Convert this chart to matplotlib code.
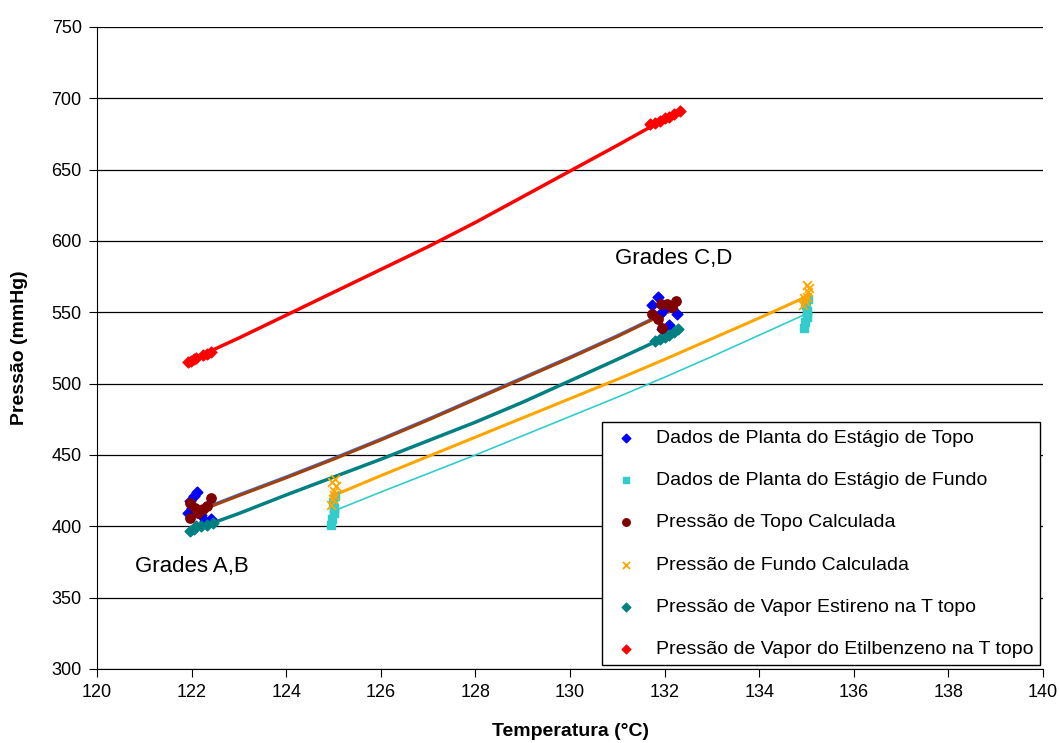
import numpy as np
import matplotlib.pyplot as plt

plt.rcParams['font.family'] = ['Liberation Sans', 'DejaVu Sans']

# plant data, top stage (blue diamonds)
topo_T = [121.93, 121.97, 122.05, 122.11, 122.0, 122.28, 122.42, 122.2,
          131.74, 131.85, 131.9, 132.0, 132.09, 132.27, 131.95]
topo_P = [409, 418, 421, 424, 413, 404, 405, 408,
          555, 561, 549, 553, 541, 549, 538]

# plant data, bottom stage (cyan squares)
fundo_T = [124.95, 124.97, 125.0, 125.02, 124.98, 125.03, 125.0,
           134.95, 134.97, 135.0, 135.02, 134.98, 135.03, 135.0]
fundo_P = [401, 405, 409, 413, 417, 421, 411,
           539, 543, 547, 551, 555, 559, 549]

# calculated top pressure (dark red circles)
ptopo_T = [121.97, 121.97, 122.14, 122.32, 122.4, 122.07, 122.25,
           131.73, 131.85, 131.92, 131.95, 132.04, 132.15, 132.24]
ptopo_P = [416, 406, 409, 414, 420, 413, 412,
           549, 545, 556, 539, 556, 554, 558]

# calculated bottom pressure (orange crosses)
pfundo_T = [124.95, 124.98, 125.0, 125.02, 125.05, 124.97, 125.03,
            134.92, 134.97, 135.0, 135.03, 135.06, 134.95, 135.02]
pfundo_P = [415, 419, 422, 425, 428, 431, 433,
            555, 558, 561, 564, 567, 560, 569]

# styrene vapour pressure at top T (teal diamonds)
est_T = [121.97, 122.05, 122.1, 122.2, 122.32, 122.46,
         131.8, 131.9, 132.0, 132.1, 132.2, 132.29]
est_P = [397, 398, 400, 400, 401, 402,
         530, 531, 533, 534, 536, 538]

# ethylbenzene vapour pressure at top T (red diamonds)
etb_T = [121.92, 121.98, 122.05, 122.1, 122.25, 122.32, 122.4,
         131.7, 131.8, 131.9, 132.0, 132.1, 132.2, 132.33]
etb_P = [515, 516, 517, 518, 520, 521, 522,
         682, 683, 684, 686, 687, 689, 691]

# curves through the data
curva_T_topo = [122.1, 123, 124, 125, 126, 127, 128, 129, 130, 131, 132.25]
curva_P_topo = [410, 421.5, 434, 447, 460.5, 474.5, 489, 503.5, 518, 533, 553]
curva_P_topo_b = [411, 422.5, 435, 448, 461.5, 475.5, 490, 504.5, 519, 534, 554]
curva_T_est = [122.0, 123, 124, 125, 126, 127, 128, 129, 130, 131, 132.3]
curva_P_est = [397, 409, 422, 434.5, 447, 460, 473, 487, 502, 517, 537]
curva_T_fundo = [125.1, 126, 127, 128, 129, 130, 131, 132, 133, 134, 135]
curva_P_fundo = [423, 435.5, 449, 462.5, 476, 489.5, 503, 517, 531.5, 546, 561]
curva_P_fundo_b = [412, 424, 437, 450, 463.5, 477, 490.5, 504.5, 519, 534, 549]
curva_T_etb = [121.95, 123, 124, 125, 126, 127, 128, 129, 130, 131, 132.3]
curva_P_etb = [516, 532, 548, 564, 580, 596, 613, 631, 649, 667, 691]

fig = plt.figure(figsize=(10.6, 7.43), dpi=100)
ax = fig.add_axes([0.0915, 0.0996, 0.8925, 0.8641])

ax.plot(curva_T_topo, curva_P_topo_b, color='#4169E1', lw=1.5, zorder=2)
ax.plot(curva_T_topo, curva_P_topo, color='#A0420A', lw=2.2, zorder=2)
ax.plot(curva_T_est, curva_P_est, color='#008080', lw=2.5, zorder=2)
ax.plot(curva_T_fundo, curva_P_fundo, color='#FFA500', lw=2.2, zorder=2)
ax.plot(curva_T_fundo, curva_P_fundo_b, color='#33CCCC', lw=1.2, zorder=2)
ax.plot(curva_T_etb, curva_P_etb, color='#FF0000', lw=2.5, zorder=2)

ax.scatter(topo_T, topo_P, marker='D', s=30, color='#0000FF', zorder=3,
           label='Dados de Planta do Estágio de Topo')
ax.scatter(fundo_T, fundo_P, marker='s', s=30, color='#33CCCC', zorder=3,
           label='Dados de Planta do Estágio de Fundo')
ax.scatter(ptopo_T, ptopo_P, marker='o', s=45, color='#800000', zorder=4,
           label='Pressão de Topo Calculada')
ax.scatter(pfundo_T, pfundo_P, marker='x', s=40, color='#FFA500', zorder=4,
           linewidths=1.3, label='Pressão de Fundo Calculada')
ax.scatter(est_T, est_P, marker='D', s=30, color='#008080', zorder=3,
           label='Pressão de Vapor Estireno na T topo')
ax.scatter(etb_T, etb_P, marker='D', s=30, color='#FF0000', zorder=3,
           label='Pressão de Vapor do Etilbenzeno na T topo')

ax.text(120.8, 372, 'Grades A,B', fontsize=16, ha='left', va='center')
ax.text(130.95, 588, 'Grades C,D', fontsize=16, ha='left', va='center')

ax.set_xlim(120, 140)
ax.set_ylim(300, 750)
ax.set_xticks(np.arange(120, 141, 2))
ax.set_yticks(np.arange(300, 751, 50))
ax.yaxis.grid(True, color='black', lw=0.9)
ax.set_axisbelow(True)
ax.tick_params(labelsize=13, direction='out', length=6, color='black', pad=5)
for s in ['top', 'right']:
    ax.spines[s].set_visible(False)
for s in ['left', 'bottom']:
    ax.spines[s].set_color('black')
ax.set_xlabel('Temperatura (°C)', fontsize=14, fontweight='bold', labelpad=16)
ax.set_ylabel('Pressão (mmHg)', fontsize=14, fontweight='bold', labelpad=17)

leg = ax.legend(loc='lower right', bbox_to_anchor=(0.997, 0.006), fontsize=14,
                labelspacing=1.27, handletextpad=0.7, handlelength=1.7,
                borderpad=0.35, borderaxespad=0, markerscale=0.8,
                fancybox=False, framealpha=1, edgecolor='black')
leg.get_frame().set_linewidth(1)

fig.savefig('out.png', dpi=100)
